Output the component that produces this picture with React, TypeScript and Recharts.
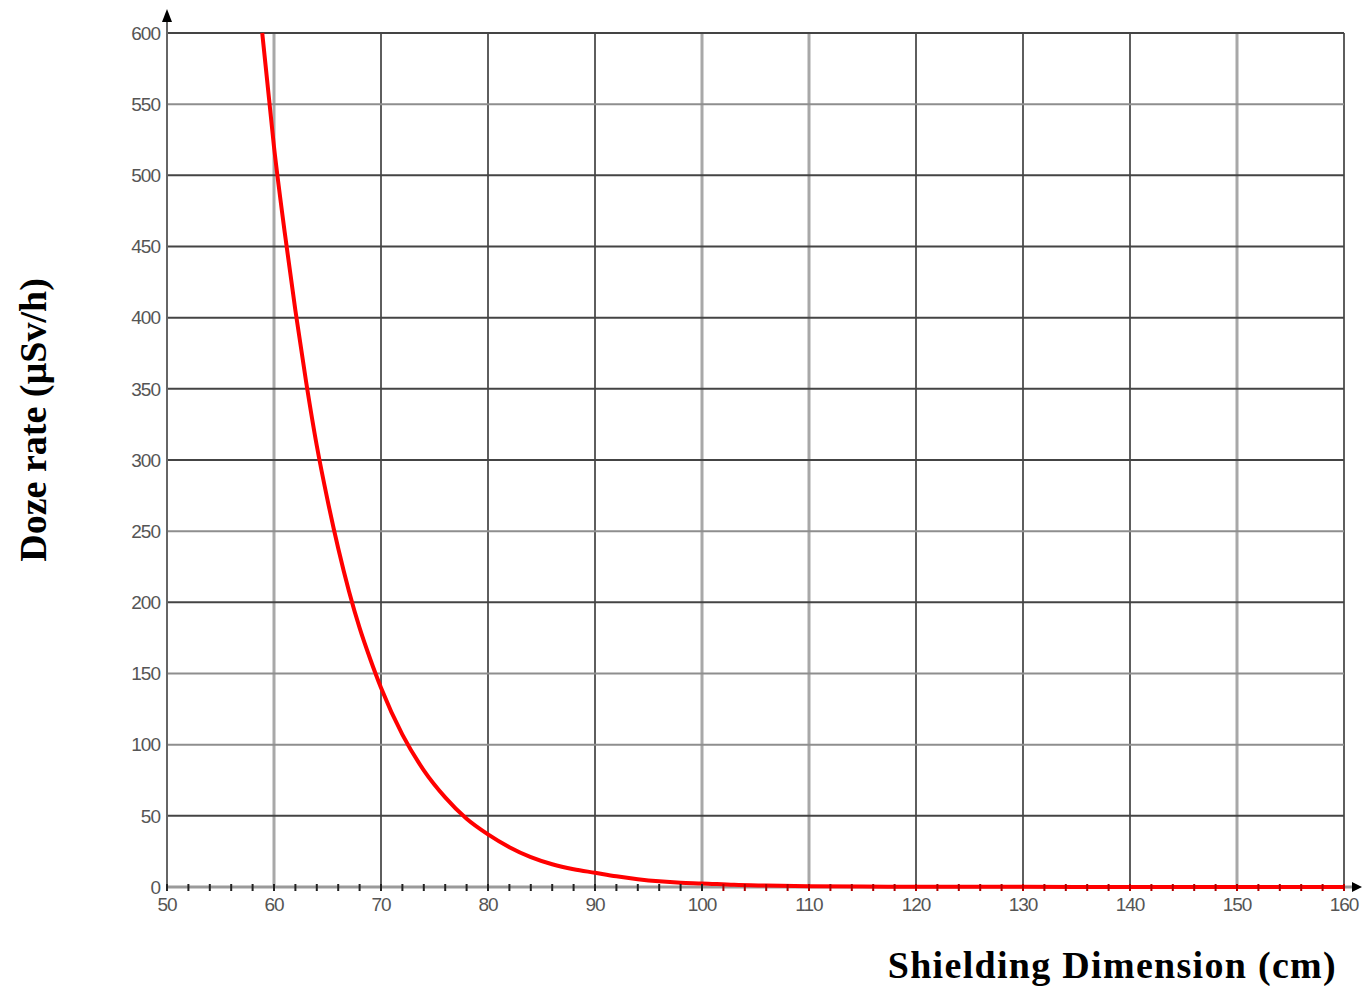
import React from 'react';
import { LineChart, Line, XAxis, YAxis, ReferenceLine, ReferenceDot } from 'recharts';

// Shielding thickness (cm) and dose rate (µSv/h)
const thickness = [58.9, 60, 61, 62, 63, 64, 65, 66, 67, 68, 69, 70, 72, 74, 76, 78, 80, 82, 84, 86, 88, 90, 92, 94, 96, 98, 100, 103, 106, 110, 115, 120, 130, 140, 150, 160];
const doseRate = [600, 520, 460, 405, 355, 310, 272, 238, 208, 182, 160, 140, 107, 82, 63, 48, 37, 28, 21, 16, 12.5, 10, 7.5, 5.5, 4, 3, 2.5, 1.5, 1, 0.5, 0.3, 0.2, 0.1, 0.05, 0.02, 0];

const xMajorTicks = [50, 60, 70, 80, 90, 100, 110, 120, 130, 140, 150, 160];
const xMinorTicks = [50, 52, 54, 56, 58, 60, 62, 64, 66, 68, 70, 72, 74, 76, 78, 80, 82, 84, 86, 88, 90, 92, 94, 96, 98, 100, 102, 104, 106, 108, 110, 112, 114, 116, 118, 120, 122, 124, 126, 128, 130, 132, 134, 136, 138, 140, 142, 144, 146, 148, 150, 152, 154, 156, 158, 160];
const yTicks = [0, 50, 100, 150, 200, 250, 300, 350, 400, 450, 500, 550, 600];

const data = thickness.map((t, i) => ({ t, dose: doseRate[i] }));

// styling of grid lines (lighter ones mimic the scanned original)
const lightX = new Set([60, 100, 110, 150]);
const lightY = new Set([550, 250, 150, 100]);

const tickFont = 'Liberation Sans, Arial, sans-serif';

const XTick = (props: any) => {
  const { x, y, payload } = props;
  const v = payload.value;
  const major = v % 10 === 0;
  return (
    <g>
      <line x1={x} x2={x} y1={y - 3} y2={y + 4} stroke={v > 100 ? '#b00000' : '#222'} strokeWidth={2} />
      {major && (
        <text x={x} y={y + 24} textAnchor="middle" fill="#555" fontSize={19} fontFamily={tickFont} letterSpacing={-1}>
          {v}
        </text>
      )}
    </g>
  );
};

const UpArrow = (props: any) => {
  const { cx, cy } = props;
  return (
    <g>
      <line x1={cx} x2={cx} y1={cy} y2={cy - 14} stroke="#666" strokeWidth={2} />
      <polygon points={`${cx},${cy - 24} ${cx - 5},${cy - 11} ${cx + 5},${cy - 11}`} fill="#000" />
    </g>
  );
};

const RightArrow = (props: any) => {
  const { cx, cy } = props;
  return (
    <g>
      <line x1={cx} x2={cx + 10} y1={cy} y2={cy} stroke="#999" strokeWidth={3} />
      <polygon points={`${cx + 18},${cy} ${cx + 8},${cy - 5} ${cx + 8},${cy + 5}`} fill="#000" />
    </g>
  );
};

export default function App() {
  return (
    <div style={{ position: 'relative', width: 1363, height: 986, background: '#fff', overflow: 'hidden' }}>
      <style>{'html,body{margin:0;padding:0;background:#fff;}'}</style>
      <LineChart
        width={1363}
        height={986}
        data={data}
        margin={{ top: 33, right: 19, bottom: 59, left: 107 }}
      >
        {xMajorTicks.filter((v) => v !== 50).map((v) => (
          <ReferenceLine
            key={'x' + v}
            x={v}
            stroke={lightX.has(v) ? '#a8a8a8' : '#5e5e5e'}
            strokeWidth={lightX.has(v) ? 3 : 2}
          />
        ))}
        {yTicks.filter((v) => v !== 0).map((v) => (
          <ReferenceLine
            key={'y' + v}
            y={v}
            stroke={lightY.has(v) ? '#8e8e8e' : '#444'}
            strokeWidth={2}
          />
        ))}
        <ReferenceLine y={0} stroke="#9a9a9a" strokeWidth={3} />
        <XAxis
          dataKey="t"
          type="number"
          domain={[50, 160]}
          ticks={xMinorTicks}
          interval={0}
          tickLine={false}
          tickSize={0}
          tickMargin={0}
          axisLine={false}
          tick={<XTick />}
          height={40}
        />
        <YAxis
          type="number"
          domain={[0, 600]}
          ticks={yTicks}
          interval={0}
          tickLine={false}
          tickSize={0}
          tickMargin={7}
          axisLine={{ stroke: '#666', strokeWidth: 2 }}
          tick={{ fill: '#555', fontSize: 19, fontFamily: tickFont, letterSpacing: -1 }}
          width={60}
        />
        <Line
          type="monotone"
          dataKey="dose"
          stroke="#ff0000"
          strokeWidth={4}
          dot={false}
          isAnimationActive={false}
        />
        <ReferenceDot x={50} y={600} r={0} shape={<UpArrow />} ifOverflow="visible" />
        <ReferenceDot x={160} y={0} r={0} shape={<RightArrow />} ifOverflow="visible" />
      </LineChart>
      <div
        style={{
          position: 'absolute',
          left: 33,
          top: 420,
          transform: 'translate(-50%, -50%) rotate(-90deg)',
          whiteSpace: 'nowrap',
          fontFamily: 'Liberation Serif, Times New Roman, serif',
          fontWeight: 'bold',
          fontSize: 38,
          lineHeight: '40px',
          color: '#000',
        }}
      >
        Doze rate (µSv/h)
      </div>
      <div
        style={{
          position: 'absolute',
          right: 26,
          top: 945,
          whiteSpace: 'nowrap',
          fontFamily: 'Liberation Serif, Times New Roman, serif',
          fontWeight: 'bold',
          fontSize: 38,
          letterSpacing: 1.3,
          lineHeight: '40px',
          color: '#000',
        }}
      >
        Shielding Dimension (cm)
      </div>
    </div>
  );
}
